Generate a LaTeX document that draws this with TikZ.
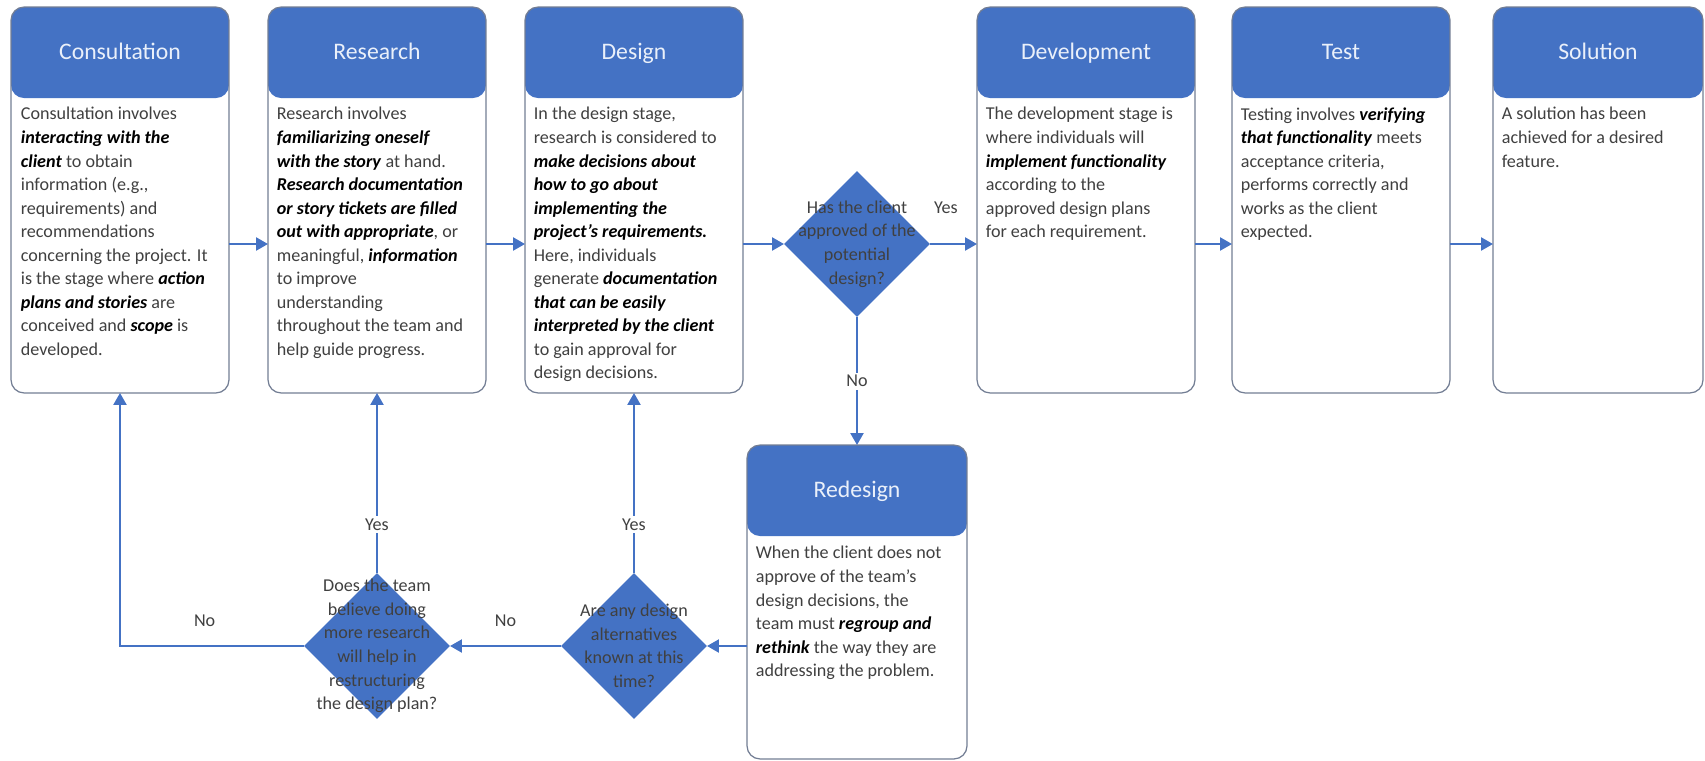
\documentclass[tikz,border=0pt]{standalone}
\usepackage{fontspec}
\setmainfont{Carlito}
\usepackage{xcolor}
\usepackage{tikz}
\usetikzlibrary{arrows.meta, positioning, calc, shapes.geometric}
\definecolor{stageblue}{RGB}{68, 114, 196}
\definecolor{cardedge}{RGB}{115, 126, 148}
\definecolor{bodygray}{RGB}{64, 64, 64}
\definecolor{titlewhite}{RGB}{234, 240, 250}
\newcommand{\keyterm}[1]{\textcolor{black}{\textbf{\textit{#1}}}}

\begin{document}
\begin{tikzpicture}[
    x=0.02cm, y=-0.02cm,
    font=\fontsize{10.3}{13.4}\selectfont,
    card/.style={draw=cardedge, line width=0.7pt, fill=white, rounded corners=0.26cm,
                 minimum width=4.36cm, minimum height=7.72cm, inner sep=0pt, outer sep=0pt,
                 path picture={\fill[stageblue] (path picture bounding box.north west)
                   rectangle ([yshift=-1.82cm]path picture bounding box.north east);}},
    title/.style={text=titlewhite, font=\fontsize{13.5}{16}\selectfont, inner sep=0pt,
                  text height=9.6pt, text depth=3pt},
    body/.style={anchor=north west, align=left, text=bodygray, inner sep=0pt},
    dec/.style={diamond, fill=stageblue, minimum width=2.92cm, minimum height=2.92cm,
                inner sep=0pt, outer sep=0pt},
    dtext/.style={align=center, text=bodygray, inner sep=0pt},
    arr/.style={-{Triangle[length=0.24cm, width=0.26cm]}, draw=stageblue, line width=1.3pt},
    lbl/.style={text=bodygray, inner sep=1.5pt}
  ]
    \useasboundingbox (0,0) rectangle (1705,761);

    \node[card] (cons) at (120,200) {};
    \node[card] (res)  at (377,200) {};
    \node[card] (des)  at (634,200) {};
    \node[card] (dev)  at (1086,200) {};
    \node[card] (test) at (1341,200) {};
    \node[card, minimum width=4.2cm] (sol) at (1598,200) {};
    \node[card, minimum width=4.4cm, minimum height=6.28cm] (rd) at (857,602) {};

    \node[title] (consT) at ([yshift=-0.94cm]cons.north) {Consultation};
    \node[title] (resT)  at ([yshift=-0.94cm]res.north)  {Research};
    \node[title] (desT)  at ([yshift=-0.94cm]des.north)  {Design};
    \node[title] (devT)  at ([yshift=-0.94cm]dev.north)  {Development};
    \node[title] (testT) at ([yshift=-0.94cm]test.north) {Test};
    \node[title] (solT)  at ([yshift=-0.94cm]sol.north)  {Solution};
    \node[title] (rdT)   at ([yshift=-0.94cm]rd.north)   {Redesign};

    \node[body] (consB) at ([xshift=0.19cm, yshift=-2.0cm]cons.north west)
      {Consultation involves\\ \keyterm{interacting with the}\\ \keyterm{client} to obtain\\
       information (e.g.,\\ requirements) and\\ recommendations\\ concerning the project. It\\
       is the stage where \keyterm{action}\\ \keyterm{plans and stories} are\\
       conceived and \keyterm{scope} is\\ developed.};
    \node[body] (resB) at ([xshift=0.17cm, yshift=-2.0cm]res.north west)
      {Research involves\\ \keyterm{familiarizing oneself}\\ \keyterm{with the story} at hand.\\
       \keyterm{Research documentation}\\ \keyterm{or story tickets are filled}\\
       \keyterm{out with appropriate}, or\\ meaningful, \keyterm{information}\\ to improve\\
       understanding\\ throughout the team and\\ help guide progress.};
    \node[body] (desB) at ([xshift=0.17cm, yshift=-2.0cm]des.north west)
      {In the design stage,\\ research is considered to\\ \keyterm{make decisions about}\\
       \keyterm{how to go about}\\ \keyterm{implementing the}\\ \keyterm{project’s requirements.}\\
       Here, individuals\\ generate \keyterm{documentation}\\ \keyterm{that can be easily}\\
       \keyterm{interpreted by the client}\\ to gain approval for\\ design decisions.};
    \node[body] (devB) at ([xshift=0.17cm, yshift=-2.0cm]dev.north west)
      {The development stage is\\ where individuals will\\ \keyterm{implement functionality}\\
       according to the\\ approved design plans\\ for each requirement.};
    \node[body] (testB) at ([xshift=0.17cm, yshift=-2.0cm]test.north west)
      {Testing involves \keyterm{verifying}\\ \keyterm{that functionality} meets\\
       acceptance criteria,\\ performs correctly and\\ works as the client\\ expected.};
    \node[body] (solB) at ([xshift=0.17cm, yshift=-2.0cm]sol.north west)
      {A solution has been\\ achieved for a desired\\ feature.};
    \node[body] (rdB) at ([xshift=0.17cm, yshift=-2.02cm]rd.north west)
      {When the client does not\\ approve of the team’s\\ design decisions, the\\
       team must \keyterm{regroup and}\\ \keyterm{rethink} the way they are\\ addressing the problem.};

    \node[dec] (d1) at (857,244) {};
    \node[dec] (d2) at (634,646) {};
    \node[dec] (d3) at (377,646) {};
    \node[dtext] (d1txt) at (d1) {Has the client\\approved of the\\potential\\design?};
    \node[dtext] (d2txt) at (d2) {Are any design\\alternatives\\known at this\\time?};
    \node[dtext] (d3txt) at (d3) {Does the team\\believe doing\\more research\\will help in\\restructuring\\the design plan?};

    \draw[arr] (cons.east |- d1) -- (res.west |- d1);
    \draw[arr] (res.east |- d1) -- (des.west |- d1);
    \draw[arr] (des.east |- d1) -- (d1.west);
    \draw[arr] (d1.east) -- node[lbl, pos=0.34, yshift=0.72cm] {Yes} (dev.west |- d1);
    \draw[arr] (dev.east |- d1) -- (test.west |- d1);
    \draw[arr] (test.east |- d1) -- (sol.west |- d1);
    \draw[arr] (d1.south) -- node[lbl, fill=white] {No} (rd.north);
    \draw[arr] (rd.west |- d2) -- (d2.east);
    \draw[arr] (d2.west) -- node[lbl, yshift=0.5cm] {No} (d3.east);
    \draw[arr] (d2.north) -- node[lbl, fill=white, pos=0.27] {Yes} (des.south);
    \draw[arr] (d3.north) -- node[lbl, fill=white, pos=0.27] {Yes} (res.south);
    \draw[arr] (d3.west) -- node[lbl, pos=0.54, yshift=0.5cm] {No} (cons.south |- d3) -- (cons.south);
  \end{tikzpicture}
\end{document}
